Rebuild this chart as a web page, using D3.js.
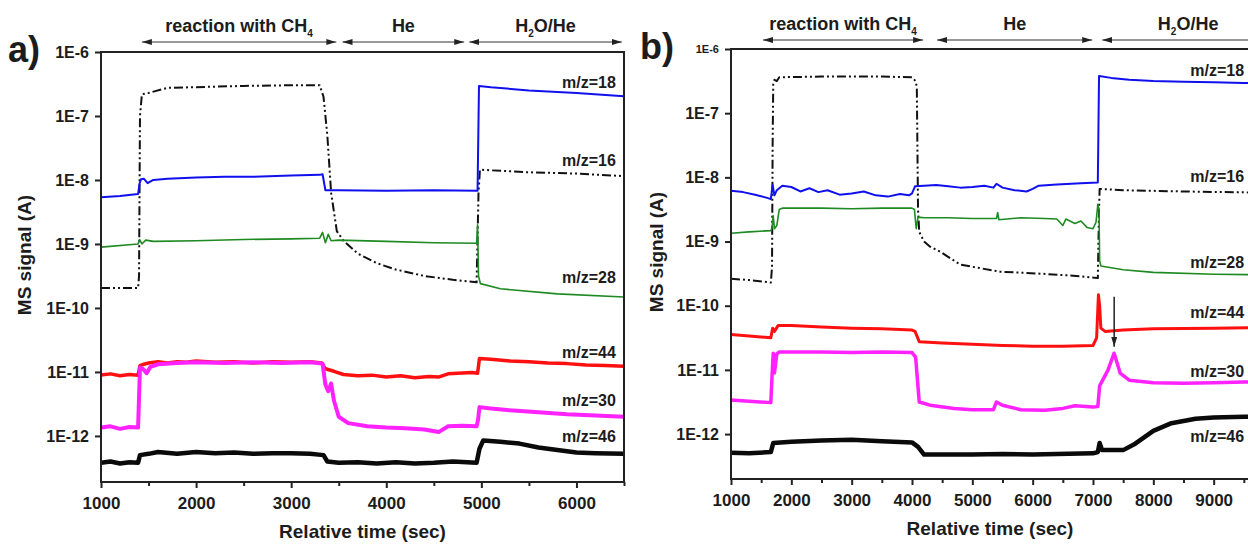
<!DOCTYPE html>
<html>
<head>
<meta charset="utf-8">
<script src="https://cdn.jsdelivr.net/npm/d3@7"></script>
<style>
  body { margin: 0; background: #fff; }
  svg text { font-family: "Liberation Sans", Arial, sans-serif; font-weight: bold; fill: #1c1c1c; }
</style>
</head>
<body>
<svg id="chart" width="1248" height="544"></svg>
<script>
// ---- data: [time (s), log10(signal / A)] ----

// panel a
const a18 = [[1000,-8.27],[1200,-8.25],[1390,-8.22],[1405,-8.06],[1420,-7.99],[1450,-7.98],[1490,-8.05],[1550,-8.0],[1700,-7.98],[2000,-7.96],[2300,-7.95],[2600,-7.95],[3000,-7.93],[3300,-7.92],[3330,-7.91],[3360,-8.16],[3500,-8.16],[4000,-8.17],[4500,-8.16],[4960,-8.17],[4975,-6.53],[5100,-6.55],[5500,-6.6],[6000,-6.64],[6500,-6.69]]
const a16 = [[1000,-9.69],[1390,-9.69],[1400,-9.5],[1410,-7.0],[1430,-6.66],[1500,-6.64],[1700,-6.56],[2000,-6.55],[2500,-6.53],[3000,-6.52],[3300,-6.52],[3340,-6.7],[3380,-7.3],[3420,-8.2],[3480,-8.8],[3550,-8.95],[3700,-9.15],[3900,-9.3],[4100,-9.4],[4400,-9.5],[4700,-9.56],[4950,-9.6],[4970,-8.2],[4985,-7.84],[5500,-7.88],[6000,-7.9],[6500,-7.94]]
const a28 = [[1000,-9.05],[1390,-9.0],[1405,-8.93],[1430,-9.0],[1470,-8.94],[1550,-8.96],[2000,-8.95],[2500,-8.93],[3000,-8.92],[3300,-8.91],[3330,-8.82],[3360,-8.98],[3390,-8.85],[3420,-8.95],[3500,-8.94],[4000,-8.96],[4500,-8.98],[4950,-8.99],[4960,-8.7],[4970,-9.5],[4990,-9.62],[5200,-9.7],[5800,-9.78],[6500,-9.83]]
const a44 = [[1000,-11.05],[1100,-11.03],[1200,-11.06],[1300,-11.04],[1390,-11.05],[1410,-10.9],[1450,-10.88],[1500,-10.86],[1600,-10.84],[1700,-10.86],[1800,-10.84],[1900,-10.85],[2000,-10.83],[2200,-10.85],[2400,-10.84],[2600,-10.86],[2800,-10.84],[3000,-10.85],[3200,-10.84],[3320,-10.86],[3360,-10.95],[3450,-10.99],[3550,-11.04],[3700,-11.06],[3850,-11.05],[4000,-11.08],[4150,-11.06],[4300,-11.09],[4450,-11.07],[4550,-11.08],[4650,-11.03],[4750,-11.02],[4900,-11.01],[4960,-11.02],[4980,-10.79],[5100,-10.8],[5300,-10.83],[5500,-10.84],[5700,-10.86],[5900,-10.87],[6100,-10.89],[6300,-10.9],[6500,-10.91]]
const a30 = [[1000,-11.87],[1100,-11.85],[1200,-11.89],[1300,-11.86],[1390,-11.87],[1400,-11.4],[1410,-10.93],[1440,-10.95],[1480,-11.02],[1520,-10.92],[1600,-10.88],[1800,-10.86],[2000,-10.85],[2300,-10.86],[2600,-10.85],[2900,-10.86],[3200,-10.85],[3330,-10.87],[3360,-11.2],[3390,-11.3],[3420,-11.18],[3450,-11.45],[3500,-11.7],[3600,-11.8],[3800,-11.85],[4000,-11.87],[4200,-11.88],[4400,-11.9],[4550,-11.94],[4650,-11.85],[4800,-11.84],[4950,-11.85],[4965,-11.75],[4980,-11.55],[5100,-11.57],[5300,-11.6],[5600,-11.63],[5900,-11.66],[6200,-11.68],[6500,-11.7]]
const a46 = [[1000,-12.42],[1100,-12.4],[1200,-12.43],[1300,-12.41],[1390,-12.42],[1410,-12.3],[1500,-12.28],[1600,-12.25],[1800,-12.28],[2000,-12.25],[2200,-12.27],[2400,-12.26],[2600,-12.28],[2800,-12.27],[3000,-12.27],[3200,-12.28],[3340,-12.3],[3380,-12.4],[3500,-12.42],[3700,-12.41],[3900,-12.43],[4100,-12.41],[4300,-12.43],[4500,-12.42],[4700,-12.4],[4950,-12.42],[4980,-12.2],[5020,-12.07],[5200,-12.09],[5400,-12.12],[5600,-12.18],[5800,-12.22],[6000,-12.26],[6200,-12.27],[6500,-12.28]]

// panel b
const b18 = [[1000,-8.21],[1200,-8.23],[1400,-8.27],[1600,-8.32],[1660,-8.34],[1690,-8.12],[1720,-8.28],[1760,-8.2],[1850,-8.13],[2000,-8.15],[2150,-8.22],[2300,-8.17],[2450,-8.23],[2600,-8.2],[2800,-8.27],[3000,-8.25],[3200,-8.22],[3400,-8.28],[3600,-8.3],[3800,-8.26],[3950,-8.28],[4000,-8.25],[4050,-8.14],[4200,-8.13],[4400,-8.12],[4600,-8.14],[4800,-8.16],[5000,-8.15],[5200,-8.13],[5350,-8.16],[5400,-8.1],[5500,-8.16],[5700,-8.2],[5900,-8.22],[6000,-8.18],[6100,-8.13],[6400,-8.11],[6800,-8.09],[7080,-8.08],[7100,-6.42],[7300,-6.45],[7600,-6.48],[8000,-6.5],[8500,-6.51],[9000,-6.52],[9500,-6.53],[10000,-6.53]]
const b16 = [[1000,-9.58],[1300,-9.6],[1600,-9.63],[1660,-9.64],[1680,-9.4],[1690,-7.5],[1700,-6.55],[1720,-6.48],[1760,-6.5],[1800,-6.44],[2500,-6.43],[3000,-6.43],[3500,-6.43],[4000,-6.44],[4060,-6.5],[4080,-6.6],[4100,-8.5],[4120,-8.85],[4200,-9.0],[4300,-9.08],[4470,-9.16],[4800,-9.36],[5460,-9.47],[6120,-9.5],[6790,-9.54],[7080,-9.57],[7100,-8.5],[7110,-8.18],[7500,-8.2],[8500,-8.22],[10000,-8.24]]
const b28 = [[1000,-8.87],[1300,-8.85],[1660,-8.83],[1680,-8.79],[1700,-8.6],[1720,-8.8],[1760,-8.75],[1800,-8.5],[1850,-8.48],[2500,-8.48],[3000,-8.49],[3500,-8.48],[4000,-8.48],[4040,-8.5],[4070,-8.8],[4100,-8.62],[4200,-8.63],[4600,-8.63],[5000,-8.64],[5400,-8.64],[5420,-8.55],[5440,-8.66],[5800,-8.63],[6200,-8.64],[6400,-8.65],[6500,-8.75],[6550,-8.65],[6700,-8.72],[6800,-8.68],[6900,-8.78],[7000,-8.8],[7050,-8.7],[7080,-8.42],[7100,-8.5],[7110,-9.3],[7130,-9.38],[7500,-9.44],[8000,-9.48],[9000,-9.51],[10000,-9.52]]
const b44 = [[1000,-10.45],[1300,-10.47],[1660,-10.5],[1690,-10.35],[1720,-10.4],[1780,-10.31],[2000,-10.31],[2500,-10.33],[3000,-10.35],[3500,-10.36],[4000,-10.38],[4050,-10.4],[4120,-10.56],[4500,-10.58],[5000,-10.6],[5500,-10.62],[6000,-10.63],[6500,-10.63],[7000,-10.62],[7060,-10.5],[7090,-9.83],[7110,-10.0],[7130,-10.35],[7200,-10.4],[7500,-10.38],[8000,-10.36],[9000,-10.35],[10000,-10.34]]
const b30 = [[1000,-11.47],[1300,-11.49],[1660,-11.51],[1680,-11.1],[1700,-10.74],[1720,-11.05],[1760,-10.75],[1800,-10.72],[2500,-10.72],[3000,-10.73],[3500,-10.72],[4000,-10.73],[4060,-10.8],[4120,-11.5],[4300,-11.55],[4700,-11.6],[5000,-11.62],[5350,-11.62],[5400,-11.5],[5500,-11.55],[5800,-11.62],[6200,-11.63],[6500,-11.6],[6700,-11.56],[7000,-11.58],[7080,-11.57],[7110,-11.25],[7250,-11.0],[7350,-10.74],[7450,-11.05],[7600,-11.16],[8000,-11.2],[8500,-11.21],[9000,-11.2],[9500,-11.19],[10000,-11.18]]
const b46 = [[1000,-12.29],[1300,-12.3],[1660,-12.28],[1700,-12.14],[2000,-12.12],[2500,-12.1],[3000,-12.09],[3500,-12.11],[4000,-12.13],[4100,-12.2],[4200,-12.32],[5000,-12.32],[5500,-12.31],[6000,-12.32],[7000,-12.3],[7080,-12.28],[7110,-12.14],[7150,-12.25],[7500,-12.25],[7700,-12.15],[8000,-11.95],[8300,-11.83],[8700,-11.76],[9000,-11.74],[9500,-11.73],[10000,-11.72]]

// ticks
const expTicks = [-6, -7, -8, -9, -10, -11, -12]
const timeTicksA = [1000, 2000, 3000, 4000, 5000, 6000]
const minorTicksA = [1500, 2500, 3500, 4500, 5500, 6500]
const timeTicksB = [1000, 2000, 3000, 4000, 5000, 6000, 7000, 8000, 9000]
const minorTicksB = [1500, 2500, 3500, 4500, 5500, 6500, 7500, 8500, 9500]

// gas phases above each panel (start / end time of the arrow)
const phasesA = [
  { label: "reaction with CH", sub: "4", rest: "", from: 1430, to: 3475 },
  { label: "He", sub: "", rest: "", from: 3540, to: 4820 },
  { label: "H", sub: "2", rest: "O/He", from: 4873, to: 6477 }
]
const phasesB = [
  { label: "reaction with CH", sub: "4", rest: "", from: 1530, to: 4184 },
  { label: "He", sub: "", rest: "", from: 4416, to: 6987 },
  { label: "H", sub: "2", rest: "O/He", from: 7153, to: 10000 }
]

// series labels (time, log10 signal)
const labelsA = [["m/z=18", 6414, -6.47], ["m/z=16", 6414, -7.69], ["m/z=28", 6414, -9.52], ["m/z=44", 6414, -10.70], ["m/z=30", 6414, -11.44], ["m/z=46", 6414, -12.0]]
const labelsB = [["m/z=18", 8612, -6.34], ["m/z=16", 8612, -7.99], ["m/z=28", 8612, -9.33], ["m/z=44", 8612, -10.11], ["m/z=30", 8612, -11.03], ["m/z=46", 8612, -12.04]]

const colors = { m18: "#1010ee", m16: "#111", m28: "#1e8a22", m44: "#ff1010", m30: "#ff22ff", m46: "#0a0a0a" }

const svg = d3.select("svg#chart")

// arrow heads for the phase arrows
const defs = svg.append("defs")
defs.append("marker").attr("id", "head")
  .attr("viewBox", "0 0 10 6").attr("refX", 10).attr("refY", 3)
  .attr("markerWidth", 10).attr("markerHeight", 6)
  .attr("markerUnits", "userSpaceOnUse").attr("orient", "auto-start-reverse")
  .append("path").attr("d", "M0,0L10,3L0,6Z").attr("fill", "#222")

function drawPanel(p) {
  const g = svg.append("g").attr("transform", "translate(" + p.left + "," + p.top + ")")
  const x = d3.scaleLinear().domain(p.xDomain).range([0, p.w])
  const y = d3.scaleLog().domain([Math.pow(10, p.yMinExp), 1e-6]).range([p.h, 0])
  const ye = e => y(Math.pow(10, e))

  g.append("clipPath").attr("id", "clip-" + p.name)
    .append("rect").attr("x", 0).attr("y", 0).attr("width", p.w).attr("height", p.h)

  const line = d3.line().x(d => x(d[0])).y(d => ye(d[1]))
  const plot = g.append("g").attr("clip-path", "url(#clip-" + p.name + ")")
  p.series.forEach(s => {
    plot.append("path").datum(s.data)
      .attr("d", line)
      .attr("fill", "none")
      .attr("stroke", s.color)
      .attr("stroke-width", s.width)
      .attr("stroke-dasharray", s.dash || null)
      .attr("stroke-linejoin", "round")
  })

  // frame
  g.append("rect").attr("width", p.w).attr("height", p.h)
    .attr("fill", "none").attr("stroke", "#222").attr("stroke-width", 2)

  // x axis
  const xAxis = g.append("g").attr("transform", "translate(0," + p.h + ")")
    .call(d3.axisBottom(x).tickValues(p.xTicks).tickSize(6).tickSizeOuter(0).tickPadding(5).tickFormat(d3.format("d")))
  const xMinor = g.append("g").attr("transform", "translate(0," + p.h + ")")
    .call(d3.axisBottom(x).tickValues(p.xMinor).tickSize(4).tickSizeOuter(0).tickFormat(""))
  // y axis
  const yAxis = g.append("g")
    .call(d3.axisLeft(y).tickValues(expTicks.map(e => Math.pow(10, e))).tickSize(6).tickSizeOuter(0).tickPadding(6)
      .tickFormat(d => "1E" + Math.round(Math.log10(d))))
  ;[xAxis, xMinor, yAxis].forEach(a => {
    a.select(".domain").remove()
    a.selectAll(".tick line").attr("stroke", "#222").attr("stroke-width", 2)
    a.selectAll("text").attr("font-size", 16).attr("fill", "#1c1c1c")
  })
  xAxis.selectAll("text").attr("font-size", 17).attr("dy", "0.95em")
  if (p.smallTop) yAxis.selectAll("text").filter(d => d === 1e-6).attr("font-size", 11)

  // axis titles
  g.append("text").attr("x", p.w * p.xTitleFrac).attr("y", p.h + 56)
    .attr("text-anchor", "middle").attr("font-size", 19).text("Relative time (sec)")
  g.append("text").attr("transform", "translate(" + p.yTitleX + "," + (p.h / 2 - 12) + ") rotate(-90)")
    .attr("text-anchor", "middle").attr("font-size", 19).text("MS signal (A)")

  // panel letter
  svg.append("text").attr("x", p.letterX).attr("y", p.top + 10)
    .attr("font-size", 36).text(p.letter)

  // phase arrows and labels
  p.phases.forEach(ph => {
    const x0 = x(ph.from), x1 = x(ph.to)
    g.append("line").attr("x1", x0).attr("x2", x1).attr("y1", -p.arrowGap).attr("y2", -p.arrowGap)
      .attr("stroke", "#333").attr("stroke-width", 1.2)
      .attr("marker-start", "url(#head)").attr("marker-end", "url(#head)")
    const t = g.append("text").attr("x", (x0 + x1) / 2).attr("y", -p.arrowGap - 10)
      .attr("text-anchor", "middle").attr("font-size", 18)
    t.append("tspan").text(ph.label)
    if (ph.sub) t.append("tspan").attr("font-size", 10).attr("dy", 5).text(ph.sub)
    if (ph.rest) t.append("tspan").attr("dy", -5).text(ph.rest)
  })

  // series labels
  p.labels.forEach(l => {
    g.append("text").attr("x", x(l[1])).attr("y", ye(l[2]))
      .attr("dy", "0.35em").attr("text-anchor", p.labelAnchor)
      .attr("font-size", 16).text(l[0])
  })

  if (p.marker) {
    g.append("line").attr("x1", x(p.marker.t)).attr("x2", x(p.marker.t))
      .attr("y1", ye(p.marker.from)).attr("y2", ye(p.marker.to))
      .attr("stroke", "#222").attr("stroke-width", 1.5).attr("marker-end", "url(#head)")
  }
}

drawPanel({
  name: "a", letter: "a)", letterX: 8, left: 101, top: 52, w: 523, h: 430,
  xDomain: [1000, 6500], yMinExp: -12.72, xTicks: timeTicksA, xMinor: minorTicksA,
  xTitleFrac: 0.5, yTitleX: -70, arrowGap: 10, labelAnchor: "end",
  phases: phasesA, labels: labelsA,
  series: [
    { data: a16, color: colors.m16, width: 2, dash: "9 3 2 3 2 3" },
    { data: a18, color: colors.m18, width: 2 },
    { data: a28, color: colors.m28, width: 1.6 },
    { data: a44, color: colors.m44, width: 3.5 },
    { data: a30, color: colors.m30, width: 4 },
    { data: a46, color: colors.m46, width: 4.5 }
  ]
})

drawPanel({
  name: "b", letter: "b)", letterX: 640, left: 731, top: 49, w: 543, h: 430, smallTop: true,
  xDomain: [1000, 10000], yMinExp: -12.70, xTicks: timeTicksB, xMinor: minorTicksB,
  xTitleFrac: 0.477, yTitleX: -68, arrowGap: 9, labelAnchor: "start",
  phases: phasesB, labels: labelsB,
  marker: { t: 7351, from: -9.86, to: -10.64 },
  series: [
    { data: b16, color: colors.m16, width: 2, dash: "9 3 2 3 2 3" },
    { data: b18, color: colors.m18, width: 2 },
    { data: b28, color: colors.m28, width: 1.6 },
    { data: b44, color: colors.m44, width: 3 },
    { data: b30, color: colors.m30, width: 3.5 },
    { data: b46, color: colors.m46, width: 4.5 }
  ]
})
</script>
</body>
</html>
